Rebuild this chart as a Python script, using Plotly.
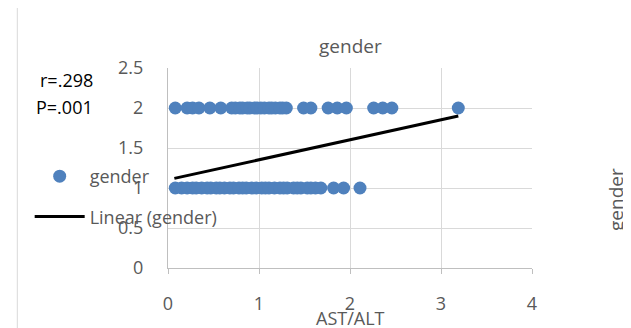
import plotly.graph_objects as go

# AST/ALT values for gender = 2
x_g2 = [0.08, 0.21, 0.27, 0.34, 0.46, 0.58, 0.70, 0.74, 0.79, 0.82, 0.87, 0.90,
        0.95, 0.98, 1.02, 1.06, 1.11, 1.14, 1.18, 1.23, 1.26, 1.30, 1.49, 1.57,
        1.76, 1.86, 1.96, 2.26, 2.36, 2.46, 3.19]
# AST/ALT values for gender = 1
x_g1 = [0.08, 0.15, 0.21, 0.27, 0.31, 0.37, 0.43, 0.47, 0.53, 0.57, 0.62, 0.68,
        0.72, 0.78, 0.82, 0.86, 0.92, 0.97, 1.03, 1.07, 1.11, 1.17, 1.23, 1.27,
        1.31, 1.38, 1.42, 1.46, 1.53, 1.57, 1.62, 1.68, 1.82, 1.93, 2.11]
gender_x = x_g2 + x_g1
gender_y = [2] * len(x_g2) + [1] * len(x_g1)

# Linear trendline endpoints
trend_x = [0.07, 3.19]
trend_y = [1.12, 1.90]

x_ticks = [0, 1, 2, 3, 4]
y_ticks = [0, 0.5, 1, 1.5, 2, 2.5]
y_ticklabels = ["0", "0.5", "1", "1.5", "2", "2.5"]

FONT = "Open Sans"
TXT = "#595959"

fig = go.Figure()
fig.add_trace(go.Scatter(
    x=gender_x, y=gender_y, mode="markers", name="gender",
    marker=dict(color="#4F81BD", size=13, line=dict(width=0)),
    legendgroup="a", cliponaxis=False))
fig.add_trace(go.Scatter(
    x=trend_x, y=trend_y, mode="lines", name="Linear (gender)",
    line=dict(color="black", width=3), legendgroup="b"))

fig.update_layout(
    width=623, height=320,
    margin=dict(l=160, r=99, t=60, b=60),
    paper_bgcolor="white", plot_bgcolor="white",
    font=dict(family=FONT, size=18, color=TXT),
    showlegend=True,
    legend=dict(x=-0.38, y=0.55, xanchor="left", yanchor="top",
                bgcolor="rgba(0,0,0,0)", tracegroupgap=14, itemwidth=50,
                font=dict(family=FONT, size=18, color=TXT)),
    xaxis=dict(range=[0, 4], tickvals=x_ticks, showgrid=True,
               gridcolor="#D9D9D9", gridwidth=1, showline=True,
               linecolor="#BFBFBF", linewidth=1, ticks="outside",
               ticklen=5, tickcolor="#BFBFBF", zeroline=False,
               ticklabelstandoff=14,
               tickfont=dict(family=FONT, size=18, color=TXT)),
    yaxis=dict(range=[0, 2.5], tickvals=y_ticks, ticktext=y_ticklabels,
               showgrid=True, gridcolor="#D9D9D9", gridwidth=1,
               showline=True, linecolor="#BFBFBF", linewidth=1,
               zeroline=False, ticks="", ticklabelstandoff=20,
               tickfont=dict(family=FONT, size=18, color=TXT)),
)

fig.add_annotation(text="gender", xref="paper", yref="paper", x=0.5, y=1.035,
                   yanchor="bottom", showarrow=False,
                   font=dict(family=FONT, size=19, color=TXT))
fig.add_annotation(text="AST/ALT", xref="paper", yref="paper", x=0.5, y=-0.25,
                   yanchor="middle", showarrow=False,
                   font=dict(family=FONT, size=18, color=TXT))
fig.add_annotation(text="gender", xref="paper", yref="paper", x=1.272, y=0.34,
                   textangle=-90, showarrow=False,
                   font=dict(family=FONT, size=19, color=TXT))
fig.add_annotation(text="r=.298", xref="paper", yref="paper", x=-0.2, y=0.94,
                   xanchor="right", yanchor="middle", showarrow=False,
                   font=dict(family=FONT, size=18, color="black"))
fig.add_annotation(text="P=.001", xref="paper", yref="paper", x=-0.2, y=0.805,
                   xanchor="right", yanchor="middle", showarrow=False,
                   font=dict(family=FONT, size=18, color="black"))
fig.add_shape(type="line", xref="paper", yref="paper",
              x0=-0.414, x1=-0.414, y0=-0.3, y1=1.3,
              line=dict(color="#D9D9D9", width=1))

fig.write_html("out.html")
